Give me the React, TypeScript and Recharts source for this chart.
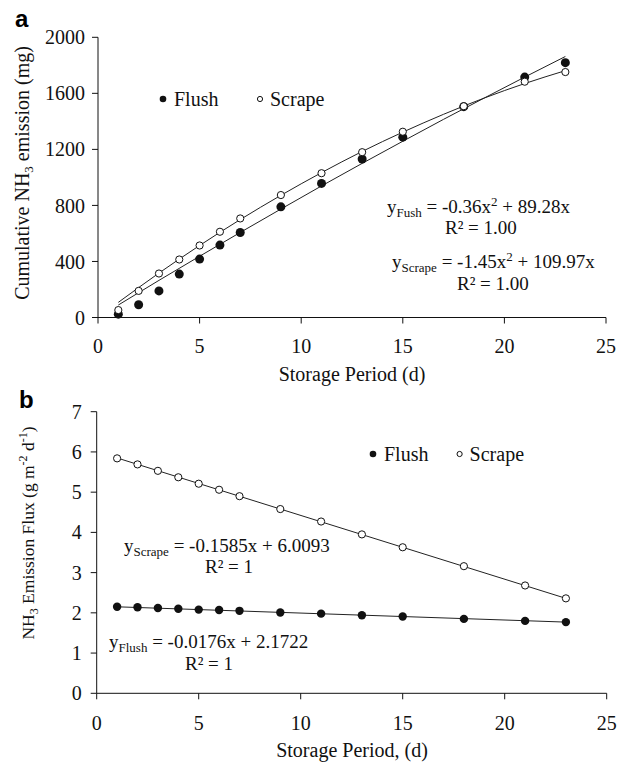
import { ComposedChart, Legend, Line, Scatter, XAxis, YAxis } from "recharts";

// storage days sampled
const DAYS = [1, 2, 3, 4, 5, 6, 7, 9, 11, 13, 15, 18, 21, 23];

// panel a: cumulative NH3 emission (mg)
const CUM_FLUSH = [24, 91, 190, 310, 417, 517, 607, 790, 957, 1131, 1287, 1505, 1716, 1819];
const CUM_SCRAPE = [53, 190, 314, 414, 514, 612, 707, 874, 1030, 1180, 1326, 1508, 1683, 1752];
const CUM_FIT_DAYS = [1, 3, 5, 7, 9, 11, 13, 15, 17, 19, 21, 23];
const CUM_FIT_FLUSH = [89, 265, 437, 607, 774, 939, 1100, 1258, 1414, 1566, 1716, 1863];
const CUM_FIT_SCRAPE = [108, 317, 514, 699, 872, 1034, 1185, 1323, 1450, 1566, 1670, 1762];

// panel b: NH3 emission flux (g m-2 d-1)
const FLUX_FLUSH = [2.15, 2.14, 2.12, 2.1, 2.08, 2.07, 2.05, 2.01, 1.98, 1.94, 1.91, 1.85, 1.8, 1.77];
const FLUX_SCRAPE = [5.84, 5.69, 5.53, 5.37, 5.21, 5.06, 4.9, 4.58, 4.27, 3.95, 3.63, 3.16, 2.68, 2.36];
const FLUX_FIT_DAYS = [1, 23];
const FLUX_FIT_FLUSH = [2.15, 1.77];
const FLUX_FIT_SCRAPE = [5.85, 2.36];

const X_TICKS = [0, 5, 10, 15, 20, 25];
const CUM_TICKS = [0, 400, 800, 1200, 1600, 2000];
const FLUX_TICKS = [0, 1, 2, 3, 4, 5, 6, 7];

const SERIF = '"Liberation Serif", "Times New Roman", serif';
const INK = "#111";

const pts = (xs: number[], ys: number[]) => xs.map((x, i) => ({ x, y: ys[i] }));

const filled = (r: number) => (p: any) => <circle cx={p.cx} cy={p.cy} r={r} fill={INK} />;
const hollow = (r: number) => (p: any) => (
  <circle cx={p.cx} cy={p.cy} r={r} fill="#fff" stroke={INK} strokeWidth={1} />
);

// ticks drawn by hand so the font actually sticks
const xTick = (p: any) => (
  <text x={p.x} y={p.y} dy="0.71em" textAnchor="middle" fontSize={20} fontFamily={SERIF} fill={INK}>
    {p.payload.value}
  </text>
);
const yTick = (p: any) => (
  <text x={p.x} y={p.y} dy="0.355em" textAnchor="end" fontSize={20} fontFamily={SERIF} fill={INK}>
    {p.payload.value}
  </text>
);

function LegendSvg({ gap }: { gap: number }) {
  return (
    <svg width={200} height={28} style={{ overflow: "visible" }}>
      <circle cx={8} cy={14} r={3.3} fill={INK} />
      <text x={19} y={21} fontSize={20} fontFamily={SERIF} fill={INK}>Flush</text>
      <circle cx={8 + gap} cy={14} r={2.6} fill="#fff" stroke={INK} strokeWidth={1} />
      <text x={18 + gap} y={21} fontSize={20} fontFamily={SERIF} fill={INK}>Scrape</text>
    </svg>
  );
}

function CumulativeChart() {
  return (
    <ComposedChart width={627} height={390} margin={{ top: 37.3, right: 21, bottom: 32.5, left: 0 }}>
      <XAxis
        type="number"
        dataKey="x"
        domain={[0, 25]}
        ticks={X_TICKS}
        height={40}
        tick={xTick}
        tickSize={6}
        tickMargin={15.3}
        stroke={INK}
      />
      <YAxis
        type="number"
        dataKey="y"
        domain={[0, 2000]}
        ticks={CUM_TICKS}
        width={98}
        tick={yTick}
        tickSize={6}
        tickMargin={7}
        stroke={INK}
      />
      <Legend
        verticalAlign="middle"
        align="center"
        wrapperStyle={{ left: 155, top: 85, width: 240, height: 30 }}
        content={() => <LegendSvg gap={97} />}
      />
      <Line data={pts(CUM_FIT_DAYS, CUM_FIT_FLUSH)} dataKey="y" type="monotone" stroke="#222" strokeWidth={1} dot={false} isAnimationActive={false} legendType="none" />
      <Line data={pts(CUM_FIT_DAYS, CUM_FIT_SCRAPE)} dataKey="y" type="monotone" stroke="#222" strokeWidth={1} dot={false} isAnimationActive={false} legendType="none" />
      <Scatter data={pts(DAYS, CUM_FLUSH)} dataKey="y" shape={filled(4.5)} isAnimationActive={false} />
      <Scatter data={pts(DAYS, CUM_SCRAPE)} dataKey="y" shape={hollow(3.6)} isAnimationActive={false} />
    </ComposedChart>
  );
}

function FluxChart() {
  return (
    <ComposedChart width={627} height={388} margin={{ top: 31.7, right: 20.3, bottom: 34.7, left: 0 }}>
      <XAxis
        type="number"
        dataKey="x"
        domain={[0, 25]}
        ticks={X_TICKS}
        height={40}
        tick={xTick}
        tickSize={6}
        tickMargin={16.5}
        stroke={INK}
      />
      <YAxis
        type="number"
        dataKey="y"
        domain={[0, 7]}
        ticks={FLUX_TICKS}
        width={96.7}
        tick={yTick}
        tickSize={6}
        tickMargin={9}
        stroke={INK}
      />
      <Legend
        verticalAlign="middle"
        align="center"
        wrapperStyle={{ left: 365, top: 60, width: 240, height: 30 }}
        content={() => <LegendSvg gap={86.6} />}
      />
      <Line data={pts(FLUX_FIT_DAYS, FLUX_FIT_SCRAPE)} dataKey="y" type="linear" stroke="#222" strokeWidth={1} dot={false} isAnimationActive={false} legendType="none" />
      <Line data={pts(FLUX_FIT_DAYS, FLUX_FIT_FLUSH)} dataKey="y" type="linear" stroke="#222" strokeWidth={1} dot={false} isAnimationActive={false} legendType="none" />
      <Scatter data={pts(DAYS, FLUX_FLUSH)} dataKey="y" shape={filled(4.2)} isAnimationActive={false} />
      <Scatter data={pts(DAYS, FLUX_SCRAPE)} dataKey="y" shape={hollow(3.6)} isAnimationActive={false} />
    </ComposedChart>
  );
}

// text sitting on top of both panels: letters, axis titles, fitted equations
function Annotations() {
  const t = { fontFamily: SERIF, fill: INK };
  const sub = 13;
  return (
    <svg width={627} height={768} style={{ position: "absolute", left: 0, top: 0, pointerEvents: "none" }}>
      <text x={15} y={27} fontFamily='"Liberation Sans", Arial, sans-serif' fontWeight="bold" fontSize={24} fill="#000">a</text>
      <text x={19} y={408} fontFamily='"Liberation Sans", Arial, sans-serif' fontWeight="bold" fontSize={24} fill="#000">b</text>

      <text {...t} fontSize={20} textAnchor="middle" transform="translate(29,173) rotate(-90)">
        Cumulative NH<tspan fontSize={sub} dy={4}>3</tspan><tspan dy={-4}> emission (mg)</tspan>
      </text>
      <text {...t} fontSize={20} x={352} y={381} textAnchor="middle">Storage Period (d)</text>

      <text {...t} fontSize={17.5} textAnchor="middle" transform="translate(34,533) rotate(-90)">
        NH<tspan fontSize={12} dy={4}>3</tspan><tspan dy={-4}> Emission Flux (g m</tspan>
        <tspan fontSize={12} dy={-7}>-2</tspan><tspan dy={7}> d</tspan>
        <tspan fontSize={12} dy={-7}>-1</tspan><tspan dy={7}>)</tspan>
      </text>
      <text {...t} fontSize={20} x={352} y={757} textAnchor="middle">Storage Period, (d)</text>

      <text {...t} fontSize={19} x={387} y={213}>
        y<tspan fontSize={sub} dy={4}>Fush</tspan><tspan dy={-4}> = -0.36x</tspan>
        <tspan fontSize={sub} dy={-7}>2</tspan><tspan dy={7}> + 89.28x</tspan>
      </text>
      <text {...t} fontSize={19} x={445} y={234}>R² = 1.00</text>
      <text {...t} fontSize={19} x={392} y={268}>
        y<tspan fontSize={sub} dy={4}>Scrape</tspan><tspan dy={-4}> = -1.45x</tspan>
        <tspan fontSize={sub} dy={-7}>2</tspan><tspan dy={7}> + 109.97x</tspan>
      </text>
      <text {...t} fontSize={19} x={457} y={290}>R² = 1.00</text>

      <text {...t} fontSize={19} x={124} y={552}>
        y<tspan fontSize={sub} dy={4}>Scrape</tspan><tspan dy={-4}> = -0.1585x + 6.0093</tspan>
      </text>
      <text {...t} fontSize={19} x={205} y={573}>R² = 1</text>
      <text {...t} fontSize={19} x={109} y={648}>
        y<tspan fontSize={sub} dy={4}>Flush</tspan><tspan dy={-4}> = -0.0176x + 2.1722</tspan>
      </text>
      <text {...t} fontSize={19} x={185} y={670}>R² = 1</text>
    </svg>
  );
}

export default function App() {
  return (
    <div style={{ position: "absolute", left: 0, top: 0, width: 627, height: 768, background: "#fff" }}>
      <div style={{ position: "absolute", left: 0, top: 0 }}>
        <CumulativeChart />
      </div>
      <div style={{ position: "absolute", left: 0, top: 380 }}>
        <FluxChart />
      </div>
      <Annotations />
    </div>
  );
}
